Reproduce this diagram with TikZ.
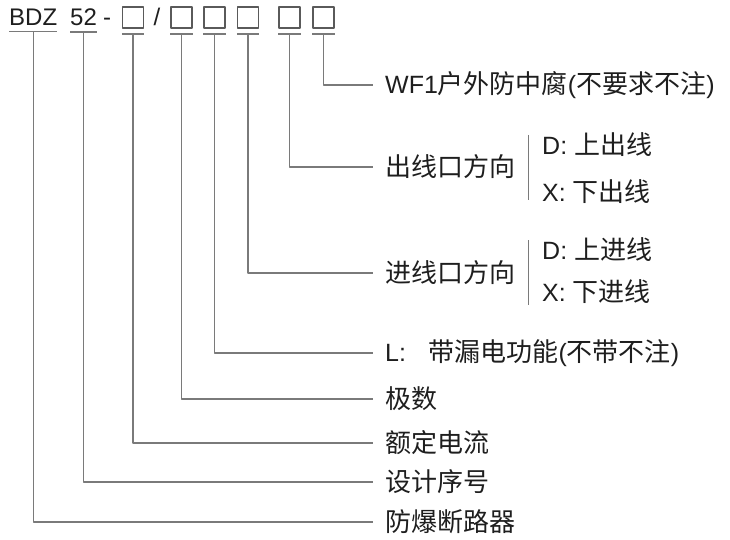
\documentclass[tikz,border=0pt]{standalone}
\usepackage{fontspec}
\setmainfont{Liberation Sans}
\newfontfamily\cn[Scale=1.04]{Noto Sans CJK SC}
\usepackage{tikz}
\definecolor{linegray}{HTML}{7A7A7A}
\definecolor{boxgray}{HTML}{5A5A5A}
\definecolor{ink}{HTML}{1E1E1E}
\tikzset{
  every picture/.style={line join=round, line cap=butt},
  code/.style={anchor=base west, inner sep=0pt, text=ink, font=\fontsize{24}{28}\selectfont},
  codebox/.style={draw=boxgray, line width=1.3pt, minimum size=21pt, inner sep=0pt},
  uline/.style={draw=linegray, line width=1.6pt},
  conn/.style={draw=linegray, line width=1.2pt},
  lab/.style={anchor=west, inner xsep=12pt, inner ysep=0pt, text=ink, font=\fontsize{25}{30}\selectfont},
  opt/.style={anchor=west, inner sep=0pt, text=ink, font=\fontsize{25}{30}\selectfont},
}

\begin{document}
\begin{tikzpicture}[x=1pt,y=-1pt]
\useasboundingbox (0,0) rectangle (730,540);
% model code
\node[code] (bdz) at (9,26) {BDZ};
\node[code] (num) at (70,26) {52};
\node[code,anchor=base] (dash) at (107,26) {-};
\node[code,anchor=base] (slash) at (157,26) {/};
\foreach \n/\x in {b1/133,b2/181.5,b3/214.5,b4/248,b5/289.5,b6/323.5}{
  \node[codebox] (\n) at (\x,17.5) {};
}
\foreach \n in {bdz,num,b1,b2,b3,b4,b5,b6}{
  \draw[uline] ([yshift=-5.5pt]\n.south west)--([yshift=-5.5pt]\n.south east);
}
% labels
\node[lab] (wf) at (373,85) {WF1{\cn 户外防中腐}({\cn 不要求不注})};
\node[lab] (cx) at (373,167) {\cn 出线口方向};
\node[lab] (jx) at (373,273) {\cn 进线口方向};
\node[lab] (ld) at (373,353) {L:\hspace{0.9em}{\cn 带漏电功能}({\cn 不带不注})};
\node[lab] (js) at (373,399) {\cn 极数};
\node[lab] (edl) at (373,443) {\cn 额定电流};
\node[lab] (sjxh) at (373,482) {\cn 设计序号};
\node[lab] (fbdlq) at (373,522) {\cn 防爆断路器};
% options
\node[opt] (cxd) at (542,145) {D: {\cn 上出线}};
\node[opt] (cxx) at (542,192) {X: {\cn 下出线}};
\node[opt] (jxd) at (542,250) {D: {\cn 上进线}};
\node[opt] (jxx) at (542,292) {X: {\cn 下进线}};
\draw[conn] ([xshift=1pt,yshift=32pt]cx.east)--([xshift=1pt,yshift=-33pt]cx.east);
\draw[conn] ([xshift=1pt,yshift=33pt]jx.east)--([xshift=1pt,yshift=-32pt]jx.east);
% connectors
\foreach \a/\b in {bdz/fbdlq,num/sjxh,b1/edl,b2/js,b3/ld,b4/jx,b5/cx,b6/wf}{
  \draw[conn] ([yshift=-5.5pt]\a.south)|-(\b.west);
}
\end{tikzpicture}
\end{document}
